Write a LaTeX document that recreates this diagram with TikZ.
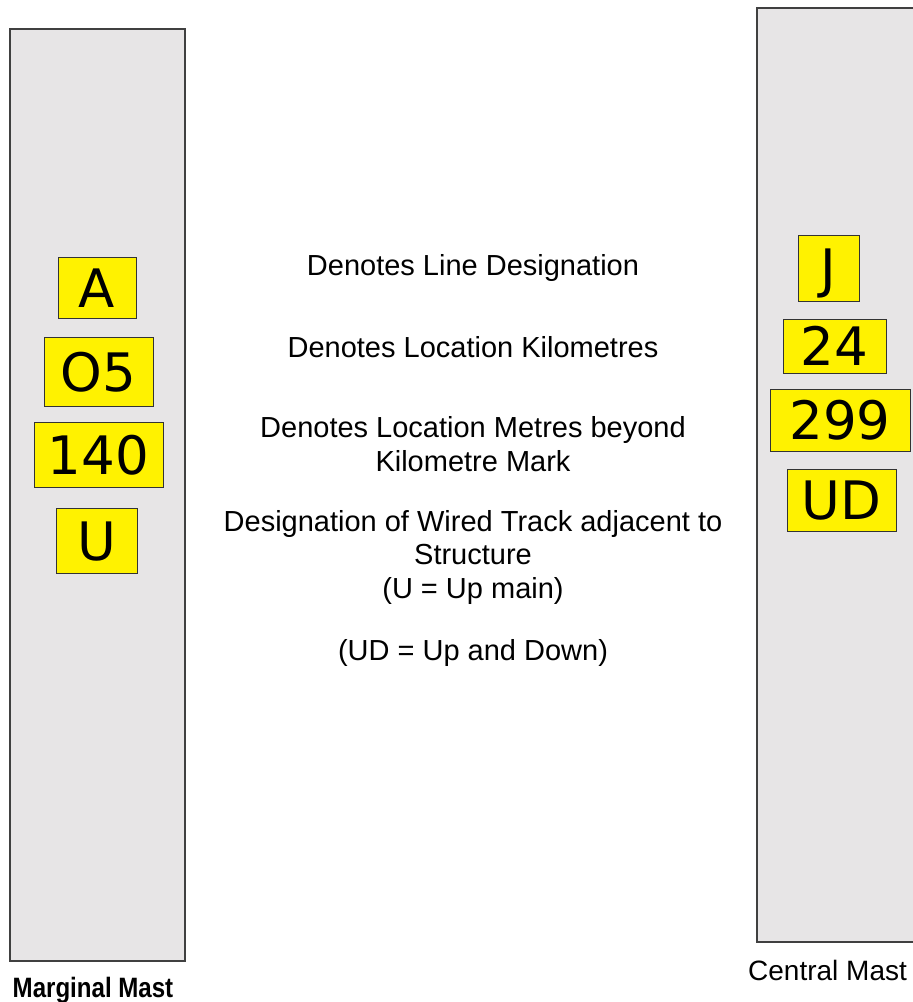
\documentclass[tikz,border=0pt]{standalone}
\usepackage{fontspec}
\setmainfont{Liberation Sans}
\newfontfamily\platefont{DejaVu Sans}
\newfontfamily\narrowfont[FakeStretch=0.86]{Liberation Sans}
\usetikzlibrary{positioning}
\definecolor{mastgrey}{RGB}{231, 229, 230}
\definecolor{mastedge}{RGB}{64, 64, 64}
\definecolor{plateyellow}{RGB}{255, 242, 0}
\definecolor{plateedge}{RGB}{51, 51, 51}

\tikzset{
  mast/.style={draw=mastedge, line width=2pt, fill=mastgrey, inner sep=0pt},
  plate/.style={draw=plateedge, line width=1pt, fill=plateyellow, inner sep=0pt,
    text height=39pt, text depth=0pt, font=\platefont\fontsize{53}{60}\selectfont},
  note/.style={align=center, anchor=base, inner sep=0pt, font=\fontsize{29}{33.5}\selectfont},
  mastlabel/.style={anchor=base, inner sep=0pt, font=\fontsize{28}{32}\selectfont}
}

\begin{document}
\begin{tikzpicture}[x=1pt, y=-1pt]
\useasboundingbox (0,0) rectangle (913,1002);

% masts
\node[mast, minimum width=175pt, minimum height=932pt] (marginal) at (97.5,495) {};
\node[mast, minimum width=163pt, minimum height=934pt] (central) at (838.5,475) {};

% plates on the marginal mast
\node[plate, minimum width=78pt, minimum height=61pt] (lineA) at (97,287.5) {A};
\node[plate, minimum width=109pt, minimum height=69pt] (kmA) at (98.5,371.5) {O5};
\node[plate, minimum width=129pt, minimum height=65pt] (metreA) at (98.5,454.5) {140};
\node[plate, minimum width=81pt, minimum height=65pt] (trackA) at (96.5,540.5) {U};

% plates on the central mast
\node[plate, minimum width=61pt, minimum height=66pt] (lineJ) at (828.5,268) {J};
\node[plate, minimum width=103pt, minimum height=54pt] (kmJ) at (834.5,346) {24};
\node[plate, minimum width=140pt, minimum height=62pt] (metreJ) at (840,420) {299};
\node[plate, minimum width=109pt, minimum height=62pt] (trackJ) at (841.5,500) {UD};

% explanations (base = last line)
\node[note] (linenote) at (473,275) {Denotes Line Designation};
\node[note] (kmnote) at (473,357) {Denotes Location Kilometres};
\node[note] (metrenote) at (473,471) {Denotes Location Metres beyond\\Kilometre Mark};
\node[note] (tracknote) at (473,598) {Designation of Wired Track adjacent to\\Structure\\(U = Up main)};
\node[note] (udnote) at (473,660) {(UD = Up and Down)};

% mast names
\node[mastlabel, font=\narrowfont\bfseries\fontsize{28}{32}\selectfont] (marginalname) at (93,997) {Marginal Mast};
\node[mastlabel, anchor=base west] (centralname) at (748,980) {Central Mast};
\end{tikzpicture}
\end{document}
